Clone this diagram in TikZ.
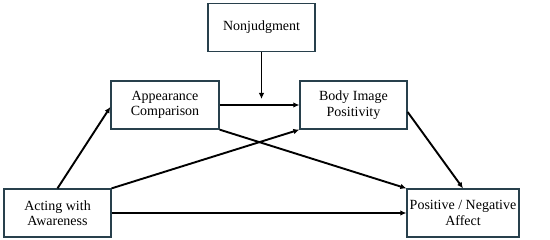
\documentclass[tikz,border=0pt]{standalone}
\usepackage{fontspec}
\setmainfont{Liberation Serif}
\usetikzlibrary{arrows.meta,positioning,calc}
\definecolor{boxline}{RGB}{40,64,76}
\tikzset{
  var/.style={draw=boxline,line width=1.3pt,minimum height=48pt,align=center,
    inner sep=2pt,font=\fontsize{14}{15.5}\selectfont},
  nyil/.style={line width=1.9pt,-{Latex[length=6pt,width=5.5pt]}},
}
\begin{document}
\begin{tikzpicture}[x=1pt,y=1pt]
  \useasboundingbox (0,0) rectangle (550,240);
  \node[var,minimum width=107pt] (non) at (261.5,212.5) {Nonjudgment};
  \node[var,minimum width=108pt] (app) at (165,135) {Appearance\\ Comparison};
  \node[var,minimum width=107pt] (bip) at (353.5,135) {Body Image\\ Positivity};
  \node[var,minimum width=107pt] (act) at (57.5,27) {Acting with\\ Awareness};
  \node[var,minimum width=112pt] (aff) at (463,27) {Positive / Negative\\ Affect};
  \coordinate (mod) at ($(non.south |- app.east)+(0,6)$);
  % paths
  \draw[nyil] (act.north) -- ([yshift=-2pt]app.west);
  \draw[nyil] (app.east) -- (bip.west);
  \draw[nyil] (non.south) -- (mod);
  \draw[nyil] (app.south east) -- (aff.north west);
  \draw[nyil] (act.north east) -- (bip.south west);
  \draw[nyil] ([yshift=-7pt]bip.east) -- (aff.north);
  \draw[nyil] (act.east) -- (aff.west);
\end{tikzpicture}
\end{document}
